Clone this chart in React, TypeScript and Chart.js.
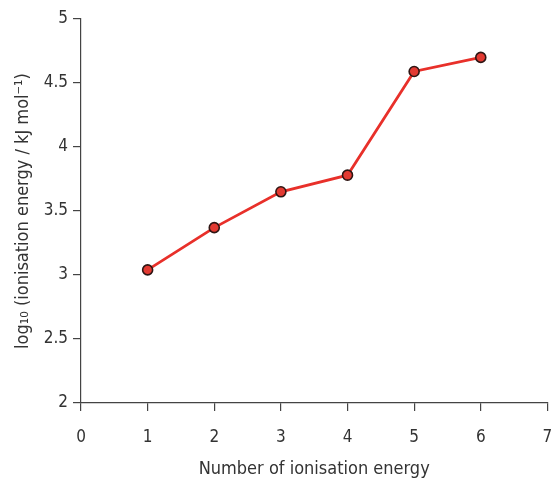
import React, { useEffect, useRef } from "react";
import { Chart, registerables } from "chart.js";

Chart.register(...registerables);

const ionisationNumbers = [1, 2, 3, 4, 5, 6];
const logEnergies = [3.04, 3.37, 3.65, 3.78, 4.59, 4.7];
const yTickValues = [2, 2.5, 3, 3.5, 4, 4.5, 5];
const xTitle = "Number of ionisation energy";
const yTitle = "log\u2081\u2080 (ionisation energy / kJ mol\u207B\u00B9)";

const FONT = "'Liberation Sans Narrow', 'DejaVu Sans Condensed', sans-serif";
const TEXT = "#333333";
const AXIS = "#444444";

export default function App() {
  const ref = useRef<HTMLCanvasElement | null>(null);
  useEffect(() => {
    if (!ref.current) return;
    const chart = new Chart(ref.current, {
      type: "line",
      data: {
        datasets: [
          {
            data: ionisationNumbers.map((x, i) => ({ x, y: logEnergies[i] })),
            borderColor: "#e8302a",
            borderWidth: 2.8,
            backgroundColor: "#e23a32",
            pointBackgroundColor: "#e23a32",
            pointBorderColor: "#2e1614",
            pointBorderWidth: 1.6,
            pointRadius: 5,
            tension: 0,
          },
        ],
      },
      options: {
        animation: false,
        responsive: false,
        layout: { padding: { top: 19, right: 6, left: 0, bottom: 0 } },
        plugins: { legend: { display: false }, tooltip: { enabled: false } },
        scales: {
          x: {
            type: "linear",
            min: 0,
            max: 7,
            border: { display: true, color: AXIS, width: 1.2 },
            grid: { drawOnChartArea: false, drawTicks: true, tickLength: 8, color: AXIS, lineWidth: 1.2 },
            ticks: { stepSize: 1, color: TEXT, font: { family: FONT, size: 17 }, padding: 16 },
            title: { display: true, text: xTitle, color: TEXT, font: { family: FONT, size: 18 }, padding: { top: 8, bottom: 4 } },
            afterFit: (s: any) => { s.height = 81; s.paddingRight = 0; s.paddingLeft = 0; },
          },
          y: {
            min: 2,
            max: 5,
            border: { display: true, color: AXIS, width: 1.2 },
            grid: { drawOnChartArea: false, drawTicks: true, tickLength: 8, color: AXIS, lineWidth: 1.2 },
            afterBuildTicks: (s: any) => { s.ticks = yTickValues.map((v) => ({ value: v })); },
            ticks: {
              color: TEXT,
              font: { family: FONT, size: 17 },
              padding: 5,
              callback: (v: any) => String(v),
            },
            title: { display: true, text: yTitle, color: TEXT, font: { family: FONT, size: 18 }, padding: { top: 13, bottom: 0 } },
            afterFit: (s: any) => { s.width = 81; s.paddingTop = 0; s.paddingBottom = 0; },
          },
        },
      },
    });
    return () => chart.destroy();
  }, []);
  return (
    <div style={{ position: "absolute", left: 0, top: 0, width: 554, height: 484, background: "#fff" }}>
      <canvas ref={ref} width={554} height={484} style={{ display: "block" }} />
    </div>
  );
}
